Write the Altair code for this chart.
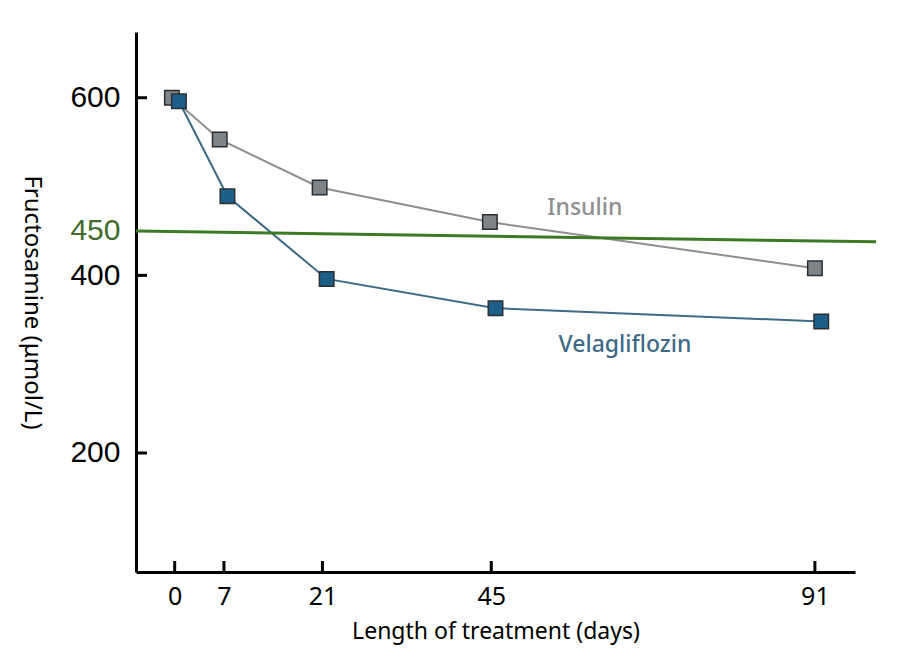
import altair as alt
import pandas as pd

days_insulin = [-0.4, 6.4, 20.6, 44.8, 91.0]
vals_insulin = [600, 553, 499, 460, 408]
days_vela = [0.6, 7.5, 21.6, 45.6, 91.9]
vals_vela = [596, 489, 396, 363, 348]
x_ticks = [0, 7, 21, 45, 91]
y_ticks = [200, 400, 600]
y_labels = [200, 400, 450, 600]
ref_x = [-5.5, 99.7]
ref_y = [450, 437.7]

df = pd.DataFrame({
    "day": days_insulin + days_vela,
    "val": vals_insulin + vals_vela,
    "grp": ["Insulin"] * 5 + ["Velagliflozin"] * 5,
})
ref = pd.DataFrame({"x0": [ref_x[0]], "x1": [ref_x[1]], "y0": [ref_y[0]], "y1": [ref_y[1]]})
lab = pd.DataFrame({"x": [58.3, 64.0], "y": [476, 322], "t": ["Insulin", "Velagliflozin"],
                    "grp": ["Insulin", "Velagliflozin"]})
xt = pd.DataFrame({"d": x_ticks})
yt = pd.DataFrame({"v": y_ticks})

xs = alt.Scale(domain=[-5.5, 96.7], nice=False, zero=False)
ys = alt.Scale(domain=[66, 674], nice=False, zero=False)

line_col = alt.Scale(domain=["Insulin", "Velagliflozin"], range=["#8e8e8e", "#3e6a88"])
fill_col = alt.Scale(domain=["Insulin", "Velagliflozin"], range=["#7f8489", "#1e5f8a"])
text_col = alt.Scale(domain=["Insulin", "Velagliflozin"], range=["#909090", "#2c4d6b"])

xaxis = alt.Axis(values=x_ticks, ticks=False, domainColor="black", domainWidth=3,
                 labelFont="Noto Sans", labelFontSize=25, labelColor="black", labelPadding=12,
                 title="Length of treatment (days)", titleFont="Noto Sans", titleFontSize=23,
                 titleFontWeight="normal", titleColor="black", titlePadding=11, grid=False)
yaxis = alt.Axis(values=y_labels, ticks=False, domainColor="black", domainWidth=3,
                 labelFont="Liberation Sans", labelFontSize=30, labelPadding=16,
                 labelColor=alt.condition("datum.value == 450", alt.value("#3f6b2c"), alt.value("black")),
                 title="Fructosamine (μmol/L)", titleFont="Noto Sans", titleFontSize=24,
                 titleFontWeight="normal", titleColor="black", titleAngle=90, titlePadding=50,
                 grid=False)

base = alt.Chart(df)
lines = base.mark_line(strokeWidth=2).encode(
    x=alt.X("day:Q", scale=xs, axis=xaxis),
    y=alt.Y("val:Q", scale=ys, axis=yaxis),
    color=alt.Color("grp:N", scale=line_col, legend=None),
    detail="grp:N",
)
pts = base.mark_square(size=210, opacity=1, stroke="#2a2f33", strokeWidth=1.5).encode(
    x=alt.X("day:Q", scale=xs),
    y=alt.Y("val:Q", scale=ys),
    fill=alt.Fill("grp:N", scale=fill_col, legend=None),
)
refline = alt.Chart(ref).mark_rule(color="#3d7a26", strokeWidth=3, clip=False).encode(
    x=alt.X("x0:Q", scale=xs), x2="x1:Q",
    y=alt.Y("y0:Q", scale=ys), y2="y1:Q",
)
texts = alt.Chart(lab).mark_text(font="Noto Sans", fontSize=23, fontWeight=500).encode(
    x=alt.X("x:Q", scale=xs), y=alt.Y("y:Q", scale=ys), text="t:N",
    color=alt.Color("grp:N", scale=text_col, legend=None),
)
xtick = alt.Chart(xt).mark_rule(color="black", strokeWidth=3).encode(
    x=alt.X("d:Q", scale=xs), y=alt.value(529), y2=alt.value(540),
)
ytick = alt.Chart(yt).mark_rule(color="black", strokeWidth=3).encode(
    y=alt.Y("v:Q", scale=ys), x=alt.value(0), x2=alt.value(11),
)

chart = alt.layer(lines, refline, pts, texts, xtick, ytick).properties(
    width=719, height=540,
    background="white",
    autosize=alt.AutoSizeParams(type="none"),
    padding={"left": 128, "top": 24, "right": 30, "bottom": 88},
).configure_view(stroke=None, strokeWidth=0).configure_axis(grid=False)

chart.save("out.html", embed_options={"renderer": "svg", "actions": False})
